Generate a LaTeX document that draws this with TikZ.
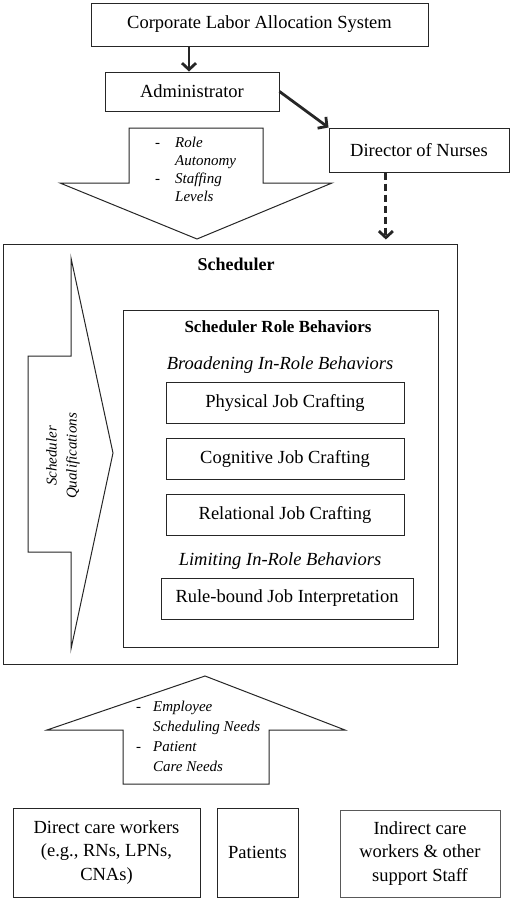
\documentclass[tikz,border=0pt]{standalone}
\usepackage{fontspec}
\setmainfont{Liberation Serif}
\usetikzlibrary{arrows.meta,calc}
\begin{document}
\begin{tikzpicture}[x=1pt,y=-1pt,
  box/.style={draw=black!85, line width=1pt, inner sep=0pt, align=center,
    font=\fontsize{18.5}{23.5}\selectfont},
  lbl/.style={inner sep=0pt, align=center},
  blockarrow/.style={draw=black!85, line width=1pt, fill=white, line join=miter},
  flow/.style={line width=2.8pt, draw=black!85, -{Straight Barb[length=6.5pt,width=14pt,line width=2.8pt]}},
  dflow/.style={flow, dash pattern=on 7pt off 4pt}]
\useasboundingbox (0,0) rectangle (512,900);

% top boxes
\node[box, minimum width=337pt, minimum height=43pt] (corp) at (259.5,24.5) {Corporate Labor Allocation System};
\node[box, minimum width=174pt, minimum height=39pt] (admin) at (192,91.5) {Administrator};
\node[box, minimum width=180pt, minimum height=44pt] (dir) at (419,150) {Director of Nurses};

% down block arrow
\draw[blockarrow] (129,128) -- (263,128) -- (263,183) -- (332,183) -- (197,239) -- (60,183) -- (129,183) -- cycle;
\node[lbl, anchor=west, font=\fontsize{15}{18}\selectfont] (roles) at (155,171)
  {\begin{tabular}{@{}l@{\hspace{15pt}}l@{}}-&\textit{Role}\\&\textit{Autonomy}\\-&\textit{Staffing}\\&\textit{Levels}\end{tabular}};

% scheduler
\node[box, minimum width=454pt, minimum height=420pt] (sched) at (230,454) {};
\node[lbl, font=\bfseries\fontsize{18}{22}\selectfont] (schedlbl) at (236,264) {Scheduler};

% right block arrow
\draw[blockarrow] (28,356) -- (71,356) -- (71,258) -- (113,453) -- (71,649) -- (71,552) -- (28,552) -- cycle;
\node[lbl, rotate=90, font=\itshape\fontsize{15}{20}\selectfont] (qual) at (63,456) {Scheduler\\Qualifications};

% inner box
\node[box, minimum width=315pt, minimum height=337pt] (inner) at (280.5,478.5) {};
\node[lbl, font=\bfseries\fontsize{17}{21}\selectfont] (innerlbl) at (278,327) {Scheduler Role Behaviors};
\node[lbl, font=\itshape\fontsize{18.5}{22}\selectfont] (broad) at (280,365) {Broadening In-Role Behaviors};
\node[box, minimum width=238pt, minimum height=41pt] (phys) at (285,402.5) {Physical Job Crafting};
\node[box, minimum width=238pt, minimum height=41pt] (cogn) at (285,458.5) {Cognitive Job Crafting};
\node[box, minimum width=238pt, minimum height=41pt] (rel) at (285,514.5) {Relational Job Crafting};
\node[lbl, font=\itshape\fontsize{18.5}{22}\selectfont] (limit) at (280,561) {Limiting In-Role Behaviors};
\node[box, minimum width=252pt, minimum height=41pt] (rule) at (287,598.5) {Rule-bound Job Interpretation};

% up block arrow
\draw[blockarrow] (205,676) -- (345,730) -- (269,730) -- (269,784) -- (123,784) -- (123,730) -- (47,730) -- cycle;
\node[lbl, anchor=west, font=\fontsize{15}{20}\selectfont] (needs) at (136,737)
  {\begin{tabular}{@{}l@{\hspace{12pt}}l@{}}-&\textit{Employee}\\&\textit{Scheduling Needs}\\-&\textit{Patient}\\&\textit{Care Needs}\end{tabular}};

% bottom boxes
\node[box, minimum width=187pt, minimum height=89pt] (direct) at (106.5,852.5) {Direct care workers\\(e.g., RNs, LPNs,\\CNAs)};
\node[box, minimum width=81pt, minimum height=89pt] (pat) at (257.5,852.5) {Patients};
\node[box, draw=black!65, minimum width=160pt, minimum height=87pt] (indir) at (420,853.5) {Indirect care\\workers \& other\\support Staff};

% connectors
\draw[flow] (corp.south -| 189,0) -- (admin.north -| 189,0);
\draw[flow] (admin.east) -- (dir.north west);
\coordinate (dstart) at ($(dir.south west)!0.317!(dir.south east)$);
\draw[dflow, shorten >=4pt] (dstart) -- (dstart |- sched.north);
\end{tikzpicture}
\end{document}
